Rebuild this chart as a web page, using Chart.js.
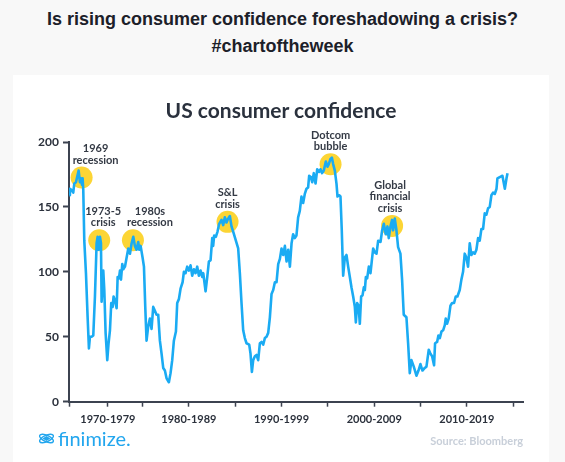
<!DOCTYPE html>
<html>
<head>
<meta charset="utf-8">
<script src="https://cdn.jsdelivr.net/npm/chart.js@4.4.1/dist/chart.umd.min.js"></script>
<style>
  body {
    margin: 0;
    width: 565px;
    height: 462px;
    background: #f8f8f8;
    position: relative;
    overflow: hidden;
    font-family: "Liberation Sans", Arial, sans-serif;
  }
  .headline {
    position: absolute;
    left: 0;
    width: 565px;
    text-align: center;
    font-weight: bold;
    font-size: 18px;
    line-height: 22px;
    color: #1c2029;
  }
  .panel {
    position: absolute;
    left: 13px;
    top: 75px;
    width: 536px;
    height: 387px;
    background: #fff;
  }
  .panel canvas { position: absolute; left: 0; top: 0; }
  .chart-title {
    position: absolute;
    top: 23px;
    width: 536px;
    text-align: center;
    font: bold 21px/24px Lato, sans-serif;
    color: #2a313d;
  }
  .logo {
    position: absolute;
    left: 25px;
    top: 351px;
    font: 20px/24px Lato, sans-serif;
    color: #22a6ee;
    display: flex;
    align-items: center;
  }
  .logo svg { margin-right: 3px; }
  .source {
    position: absolute;
    right: 26px;
    top: 359px;
    font: bold 11px/14px Lato, sans-serif;
    color: #c8cfd9;
  }
</style>
</head>
<body>
<div class="headline" style="top:8px">Is rising consumer confidence foreshadowing a crisis?</div>
<div class="headline" style="top:35px">#chartoftheweek</div>

<div class="panel">
  <canvas id="confidenceChart" width="536" height="387"></canvas>
  <div class="chart-title">US consumer confidence</div>
  <div class="logo">
    <svg width="17" height="13" viewBox="0 0 17 13">
      <g fill="none" stroke="#22a6ee" stroke-width="1.4">
        <ellipse cx="8.5" cy="6.5" rx="7.5" ry="3.2" transform="rotate(25 8.5 6.5)"/>
        <ellipse cx="8.5" cy="6.5" rx="7.5" ry="3.2" transform="rotate(-25 8.5 6.5)"/>
      </g>
      <path d="M4.5 6.5 L8.5 4 L12.5 6.5 L8.5 9 Z" fill="#22a6ee"/>
    </svg>finimize.
  </div>
  <div class="source">Source: Bloomberg</div>
</div>

<script>
// serie (position horizontale en annees, indice)
const years = [
  1967.09, 1967.16, 1967.34, 1967.52, 1967.63, 1967.81, 1968.10, 1968.24, 1968.35, 1968.46,
  1968.53, 1968.60, 1968.71, 1968.89, 1969.07, 1969.21, 1969.32, 1969.50, 1969.68, 1969.86,
  1970.04, 1970.15, 1970.26, 1970.40, 1970.51, 1970.58, 1970.76, 1970.87, 1971.01, 1971.19,
  1971.33, 1971.48, 1971.62, 1971.77, 1971.87, 1972.02, 1972.20, 1972.31, 1972.45, 1972.56,
  1972.67, 1972.81, 1972.92, 1973.10, 1973.28, 1973.46, 1973.64, 1973.82, 1974.00, 1974.17,
  1974.35, 1974.53, 1974.64, 1974.79, 1975.00, 1975.15, 1975.29, 1975.43, 1975.61, 1975.79,
  1975.97, 1976.15, 1976.33, 1976.51, 1976.69, 1976.87, 1977.05, 1977.23, 1977.41, 1977.59,
  1977.84, 1978.02, 1978.20, 1978.38, 1978.60, 1978.74, 1978.92, 1979.10, 1979.32, 1979.46,
  1979.64, 1979.82, 1980.00, 1980.18, 1980.36, 1980.54, 1980.72, 1980.90, 1981.08, 1981.26,
  1981.44, 1981.55, 1981.80, 1981.98, 1982.16, 1982.34, 1982.52, 1982.62, 1982.73, 1982.91,
  1983.09, 1983.27, 1983.52, 1983.70, 1983.88, 1984.06, 1984.24, 1984.42, 1984.60, 1984.78,
  1985.07, 1985.32, 1985.50, 1985.68, 1985.86, 1986.04, 1986.22, 1986.51, 1986.65, 1986.80,
  1986.94, 1987.12, 1987.30, 1987.48, 1987.66, 1987.84, 1988.02, 1988.20, 1988.38, 1988.56,
  1988.74, 1988.92, 1989.10, 1989.28, 1989.46, 1989.64, 1989.82, 1990.00, 1990.18, 1990.36,
  1990.54, 1990.72, 1990.90, 1991.08, 1991.25, 1991.43, 1991.61, 1991.79, 1991.97, 1992.15,
  1992.33, 1992.51, 1992.69, 1992.87, 1992.98, 1993.16, 1993.31, 1993.48, 1993.67, 1993.85,
  1994.06, 1994.20, 1994.38, 1994.56, 1994.78, 1994.96, 1995.10, 1995.28, 1995.43, 1995.57,
  1995.75, 1995.93, 1996.04, 1996.22, 1996.36, 1996.50, 1996.65, 1996.83, 1997.01, 1997.19,
  1997.37, 1997.55, 1997.73, 1997.91, 1998.02, 1998.16, 1998.31, 1998.45, 1998.59, 1998.74,
  1998.88, 1998.99, 1999.10, 1999.24, 1999.42, 1999.60, 1999.75, 1999.89, 2000.07, 2000.25,
  2000.43, 2000.68, 2000.86, 2001.04, 2001.25, 2001.43, 2001.57, 2001.76, 2001.93, 2002.04,
  2002.22, 2002.40, 2002.58, 2002.83, 2003.01, 2003.19, 2003.48, 2003.66, 2003.84, 2004.02,
  2004.27, 2004.56, 2004.78, 2004.99, 2005.21, 2005.46, 2005.64, 2005.89, 2006.07, 2006.25,
  2006.46, 2006.57, 2006.79, 2006.93, 2007.08, 2007.26, 2007.44, 2007.62, 2007.72, 2007.86,
  2008.04, 2008.23, 2008.41, 2008.62, 2008.80, 2008.98, 2009.23, 2009.41, 2009.59, 2009.77,
  2009.95, 2010.13, 2010.31, 2010.49, 2010.67, 2010.85, 2011.03, 2011.21, 2011.39, 2011.57,
  2011.75, 2011.93, 2012.11, 2012.29, 2012.47, 2012.65, 2012.83, 2013.02, 2013.20, 2013.30,
  2013.55, 2013.84, 2014.10, 2014.28, 2014.39
];

const confidence = [
  159, 164, 163, 161, 168, 169, 178, 169, 172, 167,
  172, 163, 124, 99, 65, 41, 50, 50, 51, 81,
  122, 127, 117, 127, 122, 77, 101, 86, 53, 32,
  45, 55, 76, 73, 81, 78, 72, 96, 95, 101,
  94, 106, 102, 104, 111, 118, 114, 122, 127, 120,
  117, 123, 117, 120, 111, 104, 73, 47, 58, 64,
  56, 73, 70, 67, 67, 47, 37, 26, 24, 18,
  15, 22, 32, 47, 54, 76, 79, 87, 92, 100,
  99, 104, 101, 105, 97, 102, 99, 104, 97, 101,
  96, 99, 85, 96, 108, 109, 126, 120, 128, 127,
  131, 137, 140, 136, 142, 138, 141, 143, 135, 131,
  124, 118, 99, 76, 55, 49, 45, 44, 37, 23,
  32, 35, 36, 32, 45, 46, 44, 49, 50, 53,
  65, 83, 86, 92, 92, 106, 110, 118, 113, 120,
  108, 117, 104, 122, 129, 126, 128, 142, 147, 158,
  153, 160, 164, 165, 174, 173, 169, 176, 168, 179,
  177, 179, 176, 178, 185, 181, 183, 187, 188, 183,
  178, 168, 158, 159, 158, 132, 97, 111, 113, 104,
  96, 88, 81, 73, 61, 76, 74, 60, 81, 82,
  88, 86, 96, 95, 104, 99, 109, 118, 115, 114,
  124, 123, 132, 137, 129, 135, 126, 135, 140, 132,
  141, 132, 119, 114, 94, 67, 65, 45, 22, 32,
  27, 20, 24, 29, 24, 26, 27, 40, 37, 35,
  28, 45, 46, 51, 49, 54, 55, 59, 64, 60,
  64, 74, 76, 76, 81, 81, 86, 94, 100, 114,
  111, 104, 122, 113, 115, 114, 117, 126, 124, 133,
  133, 145, 144, 149, 150, 159, 161, 160, 164, 172,
  173, 174, 164, 172, 176
];

// reperes des crises (cercles jaunes)
const crisisLabels = [
  ["1969", "recession"],
  ["1973-5", "crisis"],
  ["1980s", "recession"],
  ["S&L", "crisis"],
  ["Dotcom", "bubble"],
  ["Global", "financial", "crisis"],
];
const crisisYears = [1968.42, 1970.32, 1973.96, 1984.17, 1995.29, 2001.93];
const crisisLevels = [172.6, 124.4, 124.4, 138.5, 182.8, 135.4];

// axe horizontal
const decadeLabels = ["1970-1979", "1980-1989", "1990-1999", "2000-2009", "2010-2019"];
const decadeLabelAt = [1971.26, 1980, 1990, 2000, 2010];
const midTicks = [1967.06, 1975, 1985, 1995, 2005, 2015];
const yTickStep = 50;

// decalage horizontal des textes (px)
const labelShift = [14, 4, 17, 0, 0, -2];

const axisColor = "#3c4350";
const textColor = "#2b313c";

const crisisText = {
  id: "crisisText",
  afterDatasetsDraw(chart) {
    const { ctx, scales: { x, y } } = chart;
    ctx.save();
    ctx.font = "bold 11px Lato";
    ctx.fillStyle = "#343a45";
    ctx.textAlign = "center";
    ctx.textBaseline = "middle";
    crisisLabels.forEach((lines, i) => {
      const cx = x.getPixelForValue(crisisYears[i]) + labelShift[i];
      const cy = y.getPixelForValue(crisisLevels[i]) - 17.5;
      lines.forEach((line, j) => {
        ctx.fillText(line, cx, cy - (lines.length - 1 - j) * 11.7);
      });
    });
    ctx.restore();
  },
};

const xTickValues = [...midTicks, ...decadeLabelAt].sort((a, b) => a - b);

new Chart(document.getElementById("confidenceChart"), {
  type: "line",
  data: {
    datasets: [
      {
        label: "US consumer confidence",
        data: years.map((yr, i) => ({ x: yr, y: confidence[i] })),
        borderColor: "#1aabf3",
        borderWidth: 2.6,
        borderJoinStyle: "round",
        pointRadius: 0,
        tension: 0,
        order: 1,
      },
      {
        type: "scatter",
        label: "Crises",
        data: crisisYears.map((yr, i) => ({ x: yr, y: crisisLevels[i] })),
        backgroundColor: "#fcd535",
        borderWidth: 0,
        pointRadius: 11,
        pointHoverRadius: 11,
        order: 2,
      },
    ],
  },
  options: {
    responsive: false,
    devicePixelRatio: 1,
    animation: false,
    layout: { padding: { top: 67, right: 26, bottom: 30.3, left: 0 } },
    plugins: {
      legend: { display: false },
      title: { display: false },
      tooltip: { enabled: false },
    },
    scales: {
      x: {
        type: "linear",
        min: 1967.06,
        max: 2016.06,
        afterFit: (scale) => {
          scale.height = 30;
        },
        afterBuildTicks: (scale) => {
          scale.ticks = xTickValues.map((v) => ({ value: v }));
        },
        grid: {
          drawOnChartArea: false,
          drawTicks: true,
          tickLength: 5,
          tickColor: axisColor,
          tickWidth: 1.5,
        },
        border: { display: true, color: axisColor, width: 2 },
        ticks: {
          autoSkip: false,
          maxRotation: 0,
          padding: 6,
          color: textColor,
          font: { family: "Lato", size: 11, weight: "bold" },
          callback: (value) => {
            const k = decadeLabelAt.indexOf(value);
            return k >= 0 ? decadeLabels[k] : "";
          },
        },
      },
      y: {
        min: 0,
        max: 200,
        afterFit: (scale) => {
          scale.width = 56;
        },
        grid: {
          drawOnChartArea: false,
          drawTicks: true,
          tickLength: 6,
          tickColor: axisColor,
          tickWidth: 2,
        },
        border: { display: true, color: axisColor, width: 2 },
        ticks: {
          stepSize: yTickStep,
          padding: 4,
          color: textColor,
          font: { family: "Lato", size: 12, weight: "bold" },
        },
      },
    },
  },
  plugins: [crisisText],
});
</script>
</body>
</html>
